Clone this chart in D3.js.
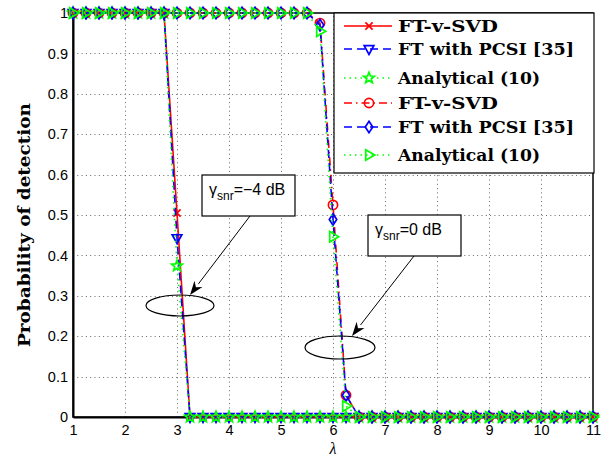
<!DOCTYPE html>
<html>
<head>
<meta charset="utf-8">
<script src="https://cdn.jsdelivr.net/npm/d3@7"></script>
<style>
  body { margin: 0; background: #fff; }
  svg { display: block; }
  .tick-label { font-family: "Liberation Sans", Arial, sans-serif; font-size: 14.5px; fill: #000; }
  .legend-text { font-family: "DejaVu Serif", serif; font-weight: bold; font-size: 17px; }
</style>
</head>
<body>
<div id="chart"></div>
<script>
// lambda values (x axis)
const lambda = [1, 1.25, 1.5, 1.75, 2, 2.25, 2.5, 2.75, 3, 3.25, 3.5, 3.75, 4, 4.25, 4.5, 4.75,
  5, 5.25, 5.5, 5.75, 6, 6.25, 6.5, 6.75, 7, 7.25, 7.5, 7.75, 8, 8.25, 8.5, 8.75,
  9, 9.25, 9.5, 9.75, 10, 10.25, 10.5, 10.75, 11];

// gamma_snr = -4 dB
const svdM4 = [1, 1, 1, 1, 1, 1, 1, 1, 0.505, 0, 0, 0, 0, 0, 0, 0,
  0, 0, 0, 0, 0, 0, 0, 0, 0, 0, 0, 0, 0, 0, 0, 0,
  0, 0, 0, 0, 0, 0, 0, 0, 0];
const pcsiM4 = [1, 1, 1, 1, 1, 1, 1, 1, 0.443, 0, 0, 0, 0, 0, 0, 0,
  0, 0, 0, 0, 0, 0, 0, 0, 0, 0, 0, 0, 0, 0, 0, 0,
  0, 0, 0, 0, 0, 0, 0, 0, 0];
const anaM4 = [1, 1, 1, 1, 1, 1, 1, 1, 0.374, 0, 0, 0, 0, 0, 0, 0,
  0, 0, 0, 0, 0, 0, 0, 0, 0, 0, 0, 0, 0, 0, 0, 0,
  0, 0, 0, 0, 0, 0, 0, 0, 0];

// gamma_snr = 0 dB
const svd0 = [1, 1, 1, 1, 1, 1, 1, 1, 1, 1, 1, 1, 1, 1, 1, 1,
  1, 1, 1, 0.975, 0.525, 0.054, 0, 0, 0, 0, 0, 0, 0, 0, 0, 0,
  0, 0, 0, 0, 0, 0, 0, 0, 0];
const pcsi0 = [1, 1, 1, 1, 1, 1, 1, 1, 1, 1, 1, 1, 1, 1, 1, 1,
  1, 1, 1, 0.97, 0.489, 0.054, 0, 0, 0, 0, 0, 0, 0, 0, 0, 0,
  0, 0, 0, 0, 0, 0, 0, 0, 0];
const ana0 = [1, 1, 1, 1, 1, 1, 1, 1, 1, 1, 1, 1, 1, 1, 1, 1,
  1, 1, 1, 0.955, 0.446, 0.027, 0, 0, 0, 0, 0, 0, 0, 0, 0, 0,
  0, 0, 0, 0, 0, 0, 0, 0, 0];

const legendLabels = ["FT-v-SVD", "FT with PCSI [35]", "Analytical (10)",
  "FT-v-SVD", "FT with PCSI [35]", "Analytical (10)"];
const xTicks = [1, 2, 3, 4, 5, 6, 7, 8, 9, 10, 11];
const yTicks = [0, 0.1, 0.2, 0.3, 0.4, 0.5, 0.6, 0.7, 0.8, 0.9, 1];

const W = 614, H = 457;
const margin = {top: 13, right: 21, bottom: 40, left: 73};
const width = W - margin.left - margin.right;
const height = H - margin.top - margin.bottom;

const svg = d3.select("#chart").append("svg")
  .attr("width", W).attr("height", H);

const x = d3.scaleLinear().domain([1, 11]).range([margin.left, margin.left + width]);
const y = d3.scaleLinear().domain([0, 1]).range([margin.top + height, margin.top]);

// grid
const grid = svg.append("g").attr("stroke", "#666").attr("stroke-width", 1)
  .attr("stroke-dasharray", "1,3.3");
grid.selectAll(".gx").data(xTicks.slice(1, -1)).enter().append("line")
  .attr("x1", d => Math.round(x(d)) + 0.5).attr("x2", d => Math.round(x(d)) + 0.5)
  .attr("y1", y(0)).attr("y2", y(1));
grid.selectAll(".gy").data(yTicks.slice(1, -1)).enter().append("line")
  .attr("y1", d => Math.round(y(d)) + 0.5).attr("y2", d => Math.round(y(d)) + 0.5)
  .attr("x1", x(1)).attr("x2", x(11));

// frame
svg.append("rect")
  .attr("x", x(1)).attr("y", y(1))
  .attr("width", width).attr("height", height)
  .attr("fill", "none").attr("stroke", "#000").attr("stroke-width", 1.5);

// axes
const xAxis = svg.append("g").attr("transform", `translate(0,${y(0)})`)
  .call(d3.axisBottom(x).tickValues(xTicks).tickSize(0).tickPadding(8).tickFormat(d3.format("d")));
const yAxis = svg.append("g").attr("transform", `translate(${x(1)},0)`)
  .call(d3.axisLeft(y).tickValues(yTicks).tickSize(0).tickPadding(5).tickFormat(d => d === 0 || d === 1 ? d : d3.format(".1f")(d)));
[xAxis, yAxis].forEach(a => {
  a.attr("font-size", null).attr("font-family", null);
  a.select(".domain").attr("stroke", "#000").attr("stroke-width", 2);
  a.selectAll("text").attr("class", "tick-label");
});

// marker shapes
function markerPath(type, s) {
  switch (type) {
    case "x": return `M${-s},${-s}L${s},${s}M${-s},${s}L${s},${-s}`;
    case "tridown": return `M${-s * 1.1},${-s * 0.75}L${s * 1.1},${-s * 0.75}L0,${s * 1.25}Z`;
    case "triright": return `M${-s * 0.75},${-s * 1.2}L${s * 1.3},0L${-s * 0.75},${s * 1.2}Z`;
    case "diamond": return `M0,${-s * 1.3}L${s * 0.85},0L0,${s * 1.3}L${-s * 0.85},0Z`;
    case "circle": {
      const p = d3.path();
      p.moveTo(s, 0); p.arc(0, 0, s, 0, 2 * Math.PI); p.closePath();
      return p.toString();
    }
    case "star": {
      const pts = [];
      for (let i = 0; i < 10; i++) {
        const r = i % 2 === 0 ? s * 1.3 : s * 0.55;
        const a = -Math.PI / 2 + i * Math.PI / 5;
        pts.push([r * Math.cos(a), r * Math.sin(a)]);
      }
      return "M" + pts.map(p => p.join(",")).join("L") + "Z";
    }
  }
}

const series = [
  {values: svdM4, color: "#ff0000", dash: null, marker: "x", size: 3.6},
  {values: pcsiM4, color: "#0000ff", dash: "8,5", marker: "tridown", size: 4.4},
  {values: anaM4, color: "#00ff00", dash: "1.5,4", marker: "star", size: 4.4},
  {values: svd0, color: "#ff0000", dash: "8,4,1.5,4", marker: "circle", size: 4.6},
  {values: pcsi0, color: "#0000ff", dash: "8,5", marker: "diamond", size: 4.4},
  {values: ana0, color: "#00ff00", dash: "1.5,4", marker: "triright", size: 4.4}
];

const line = d3.line().x((d, i) => x(lambda[i])).y(d => y(d));

series.forEach(s => {
  const g = svg.append("g");
  g.append("path").datum(s.values)
    .attr("d", line)
    .attr("fill", "none").attr("stroke", s.color).attr("stroke-width", 1.6)
    .attr("stroke-dasharray", s.dash);
  g.selectAll("path.m").data(s.values).enter().append("path")
    .attr("class", "m")
    .attr("transform", (d, i) => `translate(${x(lambda[i])},${y(d)})`)
    .attr("d", markerPath(s.marker, s.size))
    .attr("fill", "none").attr("stroke", s.color).attr("stroke-width", 1.7);
});

// legend
const lg = svg.append("g").attr("transform", "translate(334,13)");
lg.append("rect").attr("width", 260).attr("height", 160)
  .attr("fill", "#fff").attr("stroke", "#000").attr("stroke-width", 1.2);
const rowY = [13, 36, 65, 90, 114, 142];
const labelLen = [100, 176, 142, 100, 176, 142];
series.forEach((s, i) => {
  const r = lg.append("g").attr("transform", `translate(0,${rowY[i]})`);
  r.append("line").attr("x1", 10).attr("x2", 58)
    .attr("stroke", s.color).attr("stroke-width", 1.6).attr("stroke-dasharray", s.dash);
  r.append("path").attr("transform", "translate(35,0)")
    .attr("d", markerPath(s.marker, s.size))
    .attr("fill", "none").attr("stroke", s.color).attr("stroke-width", 1.7);
  r.append("text").attr("class", "legend-text").attr("x", 64).attr("y", 6)
    .attr("textLength", labelLen[i]).attr("lengthAdjust", "spacingAndGlyphs")
    .text(legendLabels[i]);
});

// annotations
function annotate(bx, by, label, ax1, ay1, ax2, ay2, ex, ey, erx, ery) {
  svg.append("ellipse").attr("cx", ex).attr("cy", ey).attr("rx", erx).attr("ry", ery)
    .attr("fill", "none").attr("stroke", "#000").attr("stroke-width", 1.2);
  svg.append("rect").attr("x", bx).attr("y", by).attr("width", 93).attr("height", 41)
    .attr("fill", "#fff").attr("stroke", "#000").attr("stroke-width", 1.2);
  const t = svg.append("text").attr("x", bx + 7).attr("y", by + 20)
    .attr("font-family", "Liberation Sans, Arial, sans-serif").attr("font-size", 16);
  t.append("tspan").text("γ");
  t.append("tspan").attr("font-size", 12).attr("dy", 5).text("snr");
  t.append("tspan").attr("dy", -5).text(label);
  // arrow
  const ang = Math.atan2(ay2 - ay1, ax2 - ax1);
  const hl = 14, hw = 5;
  const bxp = ax2 - hl * Math.cos(ang), byp = ay2 - hl * Math.sin(ang);
  svg.append("line").attr("x1", ax1).attr("y1", ay1).attr("x2", bxp).attr("y2", byp)
    .attr("stroke", "#000").attr("stroke-width", 1);
  const px = -Math.sin(ang), py = Math.cos(ang);
  svg.append("path")
    .attr("d", `M${ax2},${ay2}L${bxp + hw * px},${byp + hw * py}L${ax2 - 0.7 * hl * Math.cos(ang)},${ay2 - 0.7 * hl * Math.sin(ang)}L${bxp - hw * px},${byp - hw * py}Z`)
    .attr("fill", "#000");
}
annotate(202, 175, "=\u22124 dB", 250, 216, 190, 295, 180, 305.5, 34, 10.5);
annotate(368, 215, "=0 dB", 414, 256, 352, 336, 340, 347.5, 35, 11.5);

// axis labels
svg.append("text")
  .attr("transform", `translate(30,225) rotate(-90)`)
  .attr("text-anchor", "middle")
  .attr("font-family", "DejaVu Serif, serif").attr("font-weight", "bold").attr("font-size", 17)
  .attr("textLength", 244).attr("lengthAdjust", "spacingAndGlyphs")
  .text("Probability of detection");
svg.append("text")
  .attr("x", x(6)).attr("y", 453.5)
  .attr("text-anchor", "middle")
  .attr("font-family", "Liberation Serif, serif").attr("font-style", "italic").attr("font-size", 16)
  .text("λ");
</script>
</body>
</html>
